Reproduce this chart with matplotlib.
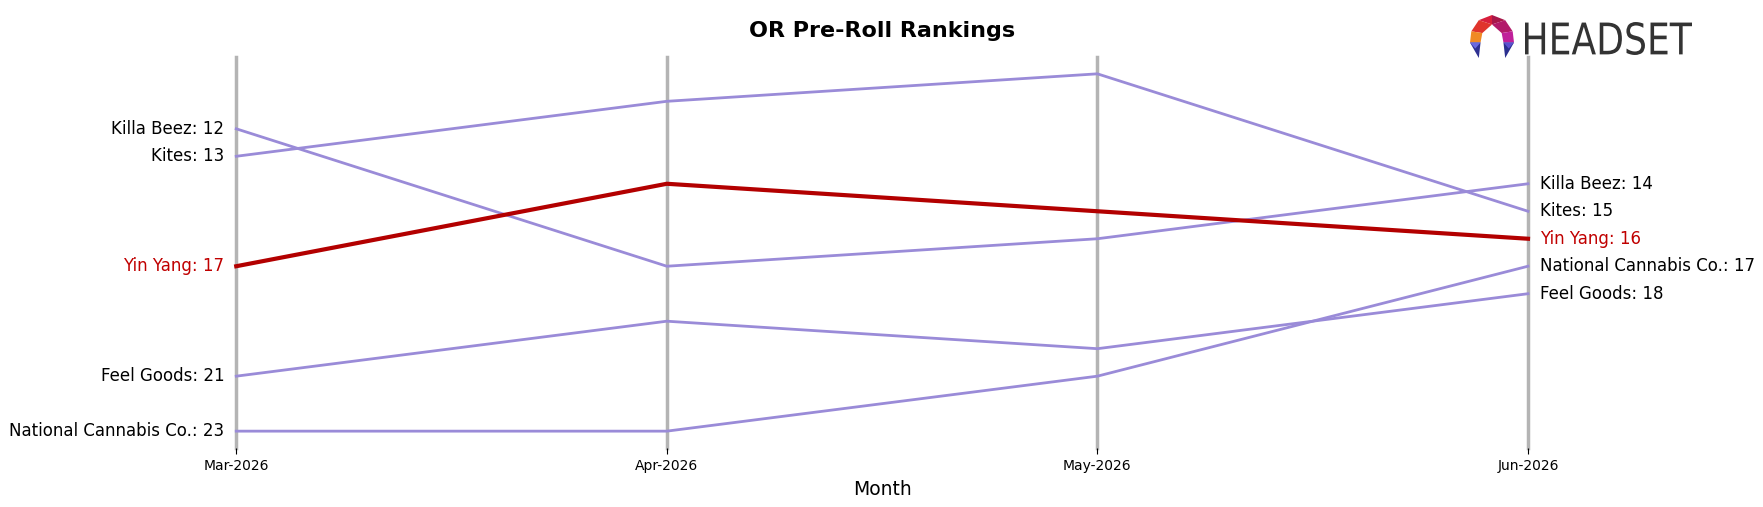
import matplotlib
matplotlib.use("Agg")
import matplotlib.pyplot as plt
from matplotlib.patches import Polygon, PathPatch
from matplotlib.textpath import TextPath
from matplotlib.font_manager import FontProperties

months = ['Mar-2026', 'Apr-2026', 'May-2026', 'Jun-2026']
brands = ['Killa Beez', 'Kites', 'Yin Yang', 'Feel Goods', 'National Cannabis Co.']
killa_beez = [12, 17, 16, 14]
kites = [13, 11, 10, 15]
yin_yang = [17, 14, 15, 16]
feel_goods = [21, 19, 20, 18]
national_cannabis = [23, 23, 21, 17]
ranks = [killa_beez, kites, yin_yang, feel_goods, national_cannabis]
highlight = 'Yin Yang'

purple = '#9a8bd8'
red = '#b30000'

fig = plt.figure(figsize=(17.63, 5.07), dpi=100)
ax = fig.add_axes([0.134, 0.116, 0.7327, 0.772])

x = list(range(len(months)))
for xi in x:
    ax.axvline(xi, color='#b4b4b4', lw=2.5, zorder=1, clip_on=False)

for name, r in zip(brands, ranks):
    if name == highlight:
        ax.plot(x, r, color=red, lw=3, zorder=3, clip_on=False)
        tc = '#c00000'
    else:
        ax.plot(x, r, color=purple, lw=2, zorder=2, clip_on=False)
        tc = 'black'
    ax.text(x[0] - 0.028, r[0], f'{name}: {r[0]}', ha='right', va='center', fontsize=12, color=tc)
    ax.text(x[-1] + 0.028, r[-1], f'{name}: {r[-1]}', ha='left', va='center', fontsize=12, color=tc)

ax.set_xlim(x[0], x[-1])
ax.set_ylim(23.62, 9.38)
ax.set_xticks(x)
ax.set_xticklabels(months, fontsize=10)
ax.tick_params(axis='x', length=4, color='black', width=0.8)
ax.set_yticks([])
for s in ax.spines.values():
    s.set_visible(False)
ax.set_xlabel('Month', fontsize=13.5, labelpad=5)
ax.set_title('OR Pre-Roll Rankings', fontsize=16, fontweight='bold', pad=14)

# logo icon
W, H = 1763, 507
lax = fig.add_axes([1470 / W, 1 - 58 / H, 44 / W, 43 / H])
lax.set_xlim(0, 1)
lax.set_ylim(0, 1)
lax.axis('off')
pieces = [
    ([(0.5, 1.0), (0.2, 0.88), (0.5, 0.78)], '#d81f3c'),
    ([(0.5, 1.0), (0.8, 0.88), (0.5, 0.78)], '#a8174a'),
    ([(0.2, 0.88), (0.03, 0.62), (0.28, 0.58), (0.5, 0.78)], '#e0342c'),
    ([(0.8, 0.88), (0.97, 0.62), (0.72, 0.58), (0.5, 0.78)], '#b21a6a'),
    ([(0.03, 0.62), (0.0, 0.36), (0.24, 0.36), (0.28, 0.58)], '#f08a24'),
    ([(0.97, 0.62), (1.0, 0.36), (0.76, 0.36), (0.72, 0.58)], '#c0209a'),
    ([(0.0, 0.36), (0.24, 0.36), (0.2, 0.0)], '#2e3192'),
    ([(0.0, 0.36), (0.24, 0.36), (0.12, 0.22)], '#6a6ae0'),
    ([(1.0, 0.36), (0.76, 0.36), (0.8, 0.0)], '#2b2f8f'),
    ([(1.0, 0.36), (0.76, 0.36), (0.88, 0.22)], '#5a4fd0'),
]
for pts, c in pieces:
    lax.add_patch(Polygon(pts, closed=True, color=c, lw=0))

# logo word, squeezed into its box
tp = TextPath((0, 0), 'HEADSET', size=10, prop=FontProperties(family='DejaVu Sans'))
bb = tp.get_extents()
tax = fig.add_axes([1525 / W, 1 - 55 / H, 167 / W, 33 / H])
tax.set_xlim(bb.x0, bb.x1)
tax.set_ylim(bb.y0, bb.y1)
tax.axis('off')
tax.add_patch(PathPatch(tp, color='#333333', lw=0))

fig.savefig('out.png', dpi=100)
